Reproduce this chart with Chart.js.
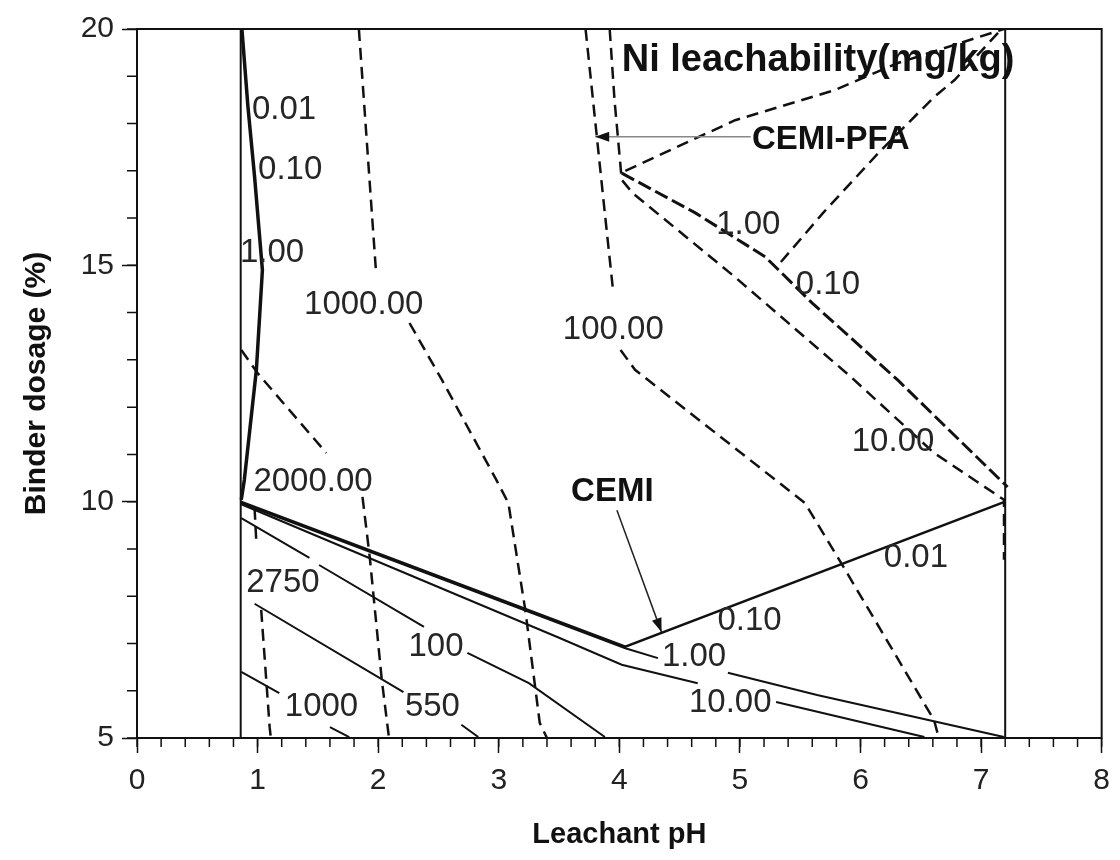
<!DOCTYPE html>
<html>
<head>
<meta charset="utf-8">
<title>Ni leachability contours</title>
<script src="https://cdn.jsdelivr.net/npm/chart.js@4.4.1/dist/chart.umd.min.js"></script>
<style>
  html, body { margin: 0; padding: 0; background: #fff; }
  canvas { display: block; }
</style>
</head>
<body>
<canvas id="contourChart" width="1120" height="860"></canvas>
<script>
// axes: leachant pH (x) vs binder dosage % (y)
const xMin = 0, xMax = 8;
const yMin = 5, yMax = 20;

// edges of the mapped region
const edgeLeft = [[0.86, 5], [0.86, 20]];
const edgeRight = [[7.2, 5], [7.2, 20]];

// CEMI contours (solid lines), null = break for a label
const cemiLow = [[0.86, 10.0], [4.05, 6.93], [7.2, 10.0]];
const cemi1 = [[0.86, 9.97], [4.05, 6.9], [4.32, 6.69], null, [4.9, 6.38], [5.64, 5.91], [7.19, 5.02]];
const cemi10 = [[0.86, 9.95], [3.5, 7.12], [4.02, 6.55], [4.65, 6.16], null, [5.3, 5.76], [6.53, 5.02]];
const cemi100 = [[0.865, 9.65], [1.43, 8.81], null, [1.51, 8.66], [2.38, 7.35], null, [2.74, 6.8], [3.25, 6.16], [3.88, 5.02]];
const cemi550 = [[0.975, 7.84], [2.21, 5.97], null, [2.69, 5.28], [2.83, 5.02]];
const cemi1000 = [[0.865, 6.4], [1.18, 5.95], null, [1.6, 5.23], [1.76, 5.02]];

// CEMI-PFA low contours near pH 1 (solid, bunched together)
const pfaLow = [[0.87, 20], [0.92, 18.36], [0.975, 16.88], [1.04, 14.9], [0.99, 12.79], [0.89, 10.46], [0.865, 10.04]];

// CEMI-PFA contours (dashed)
const pfa2750 = [[0.975, 9.87], [0.99, 9.13], null, [1.03, 7.71], [1.1, 5.23], [1.11, 5.0]];
const pfa2000 = [[0.865, 13.21], [1.0, 12.72], [1.57, 11.03], null, [1.87, 10.1], [1.93, 8.83], [2.03, 6.23], [2.09, 5.0]];
const pfa1000 = [[1.84, 20], [1.98, 14.94], null, [2.26, 13.78], [2.53, 12.57], [2.98, 10.46], [3.08, 9.97], [3.22, 7.71], [3.34, 5.32], [3.4, 5.0]];
const pfa100 = [[3.72, 20], [3.88, 16.1], [3.95, 14.42], null, [4.01, 13.21], [4.13, 12.79], [5.54, 9.97], [5.84, 8.7], [6.61, 5.38], [6.65, 5.0]];
const pfa10 = [[3.92, 20], [3.96, 18.5], [4.02, 16.81], [4.11, 16.53], [4.96, 14.75], [5.92, 12.64], [6.61, 11.03], [7.19, 10.04], [7.19, 8.77]];
const pfa1 = [[4.02, 16.95], [4.63, 16.11], [5.21, 15.18], [5.6, 14.2], [6.31, 12.57], [7.22, 10.31]];
const pfaLegA = [[4.05, 17.0], [4.96, 18.07], [5.79, 18.71], [6.31, 19.28], [7.19, 20]];
const pfaLegB = [[5.34, 15.07], [5.69, 16.11], [6.15, 17.38], [6.61, 18.56], [6.78, 18.92], [7.17, 20]];

// contour value labels
const labelText = ["0.01", "0.10", "1.00", "1000.00", "2000.00", "2750", "100", "550", "1000",
  "100.00", "1.00", "0.10", "10.00", "0.01", "0.10", "1.00", "10.00"];
const labelX = [1.22, 1.27, 1.12, 1.88, 1.46, 1.21, 2.48, 2.45, 1.53, 3.95, 5.07, 5.73, 6.27, 6.46, 5.08, 4.62, 4.92];
const labelY = [18.29, 17.02, 15.26, 14.16, 10.42, 8.28, 6.93, 5.66, 5.66, 13.63, 15.85, 14.58, 11.26, 8.81, 7.48, 6.71, 5.74];

// bold annotations (left anchored)
const noteText = ["Ni leachability(mg/kg)", "CEMI-PFA", "CEMI"];
const noteX = [4.02, 5.1, 3.6];
const noteY = [19.34, 17.65, 10.2];

// annotation arrows: [from, to]
const cemiArrow = [[3.98, 9.82], [4.35, 7.24]];
const pfaArrow = [[5.09, 17.72], [3.8, 17.72]];

function toPoints(line) {
  return line.map(p => p ? { x: p[0], y: p[1] } : { x: NaN, y: NaN });
}

function solid(data, width) {
  return { data: toPoints(data), borderColor: "#111", borderWidth: width, showLine: true, pointRadius: 0, spanGaps: false };
}

function dashed(data, width, dash) {
  return { data: toPoints(data), borderColor: "#111", borderWidth: width, borderDash: dash || [12, 7], showLine: true, pointRadius: 0, spanGaps: false };
}

const overlay = {
  id: "overlay",
  afterDatasetsDraw(chart) {
    const { ctx, chartArea: a, scales: { x, y } } = chart;
    ctx.save();

    // frame
    ctx.strokeStyle = "#111";
    ctx.lineWidth = 2;
    ctx.strokeRect(a.left, a.top, a.right - a.left, a.bottom - a.top);

    // minor ticks
    ctx.lineWidth = 1.5;
    ctx.beginPath();
    for (let i = 0; i <= 40; i++) {
      const px = x.getPixelForValue(i * 0.2);
      ctx.moveTo(px, a.bottom);
      ctx.lineTo(px, a.bottom + 9);
    }
    for (let v = yMin; v <= yMax; v++) {
      const py = y.getPixelForValue(v);
      ctx.moveTo(a.left, py);
      ctx.lineTo(a.left - 10, py);
    }
    ctx.stroke();

    // arrows
    function arrow(pts, color) {
      const x0 = x.getPixelForValue(pts[0][0]), y0 = y.getPixelForValue(pts[0][1]);
      const x1 = x.getPixelForValue(pts[1][0]), y1 = y.getPixelForValue(pts[1][1]);
      const ang = Math.atan2(y1 - y0, x1 - x0);
      ctx.strokeStyle = color;
      ctx.lineWidth = 1.5;
      ctx.beginPath();
      ctx.moveTo(x0, y0);
      ctx.lineTo(x1, y1);
      ctx.stroke();
      ctx.fillStyle = "#111";
      ctx.beginPath();
      ctx.moveTo(x1, y1);
      ctx.lineTo(x1 - 14 * Math.cos(ang) + 5 * Math.sin(ang), y1 - 14 * Math.sin(ang) - 5 * Math.cos(ang));
      ctx.lineTo(x1 - 14 * Math.cos(ang) - 5 * Math.sin(ang), y1 - 14 * Math.sin(ang) + 5 * Math.cos(ang));
      ctx.closePath();
      ctx.fill();
    }
    arrow(cemiArrow, "#222");
    arrow(pfaArrow, "#888");

    // contour labels
    ctx.fillStyle = "#262626";
    ctx.font = '33px "Liberation Sans", Arial, sans-serif';
    ctx.textAlign = "center";
    ctx.textBaseline = "middle";
    labelText.forEach((t, i) => {
      ctx.fillText(t, x.getPixelForValue(labelX[i]), y.getPixelForValue(labelY[i]));
    });

    // bold notes
    ctx.fillStyle = "#111";
    ctx.textAlign = "left";
    noteText.forEach((t, i) => {
      ctx.font = (i === 0 ? "bold 38px" : "bold 33px") + ' "Liberation Sans", Arial, sans-serif';
      ctx.fillText(t, x.getPixelForValue(noteX[i]), y.getPixelForValue(noteY[i]));
    });

    ctx.restore();
  }
};

const chart = new Chart(document.getElementById("contourChart"), {
  type: "scatter",
  data: {
    datasets: [
      solid(edgeLeft, 2),
      solid(edgeRight, 2),
      solid(cemiLow, 2.5),
      solid(cemi1, 2),
      solid(cemi10, 2),
      solid(cemi100, 2),
      solid(cemi550, 2),
      solid(cemi1000, 2),
      solid(pfaLow, 3.5),
      dashed(pfa2750, 2.5),
      dashed(pfa2000, 2.5),
      dashed(pfa1000, 2.5),
      dashed(pfa100, 2.5),
      dashed(pfa10, 2.5),
      dashed(pfa1, 3, [14, 5]),
      dashed(pfaLegA, 2.5),
      dashed(pfaLegB, 2.5),
    ],
  },
  options: {
    responsive: false,
    animation: false,
    layout: { padding: { top: 29, right: 15, left: 0, bottom: 0 } },
    plugins: { legend: { display: false }, tooltip: { enabled: false } },
    scales: {
      x: {
        type: "linear",
        min: xMin,
        max: xMax,
        afterFit: (s) => { s.height = 122; },
        grid: { drawOnChartArea: false, drawTicks: true, tickLength: 15, color: "#111", tickWidth: 1.5 },
        border: { color: "#111", width: 2 },
        ticks: { stepSize: 1, padding: 10, color: "#222", font: { family: "Liberation Sans", size: 30 } },
        title: { display: true, text: "Leachant pH", color: "#111", padding: { bottom: 8 }, font: { family: "Liberation Sans", size: 29, weight: "bold" } },
      },
      y: {
        type: "linear",
        min: yMin,
        max: yMax,
        afterFit: (s) => { s.width = 137; },
        grid: { drawOnChartArea: false, drawTicks: true, tickLength: 15, color: "#111", tickWidth: 1.5 },
        border: { color: "#111", width: 2 },
        ticks: { stepSize: 5, padding: 8, color: "#222", font: { family: "Liberation Sans", size: 30 } },
        title: { display: true, text: "Binder dosage (%)", color: "#111", padding: { top: 19 }, font: { family: "Liberation Sans", size: 30, weight: "bold" } },
      },
    },
  },
  plugins: [overlay],
});
</script>
</body>
</html>
